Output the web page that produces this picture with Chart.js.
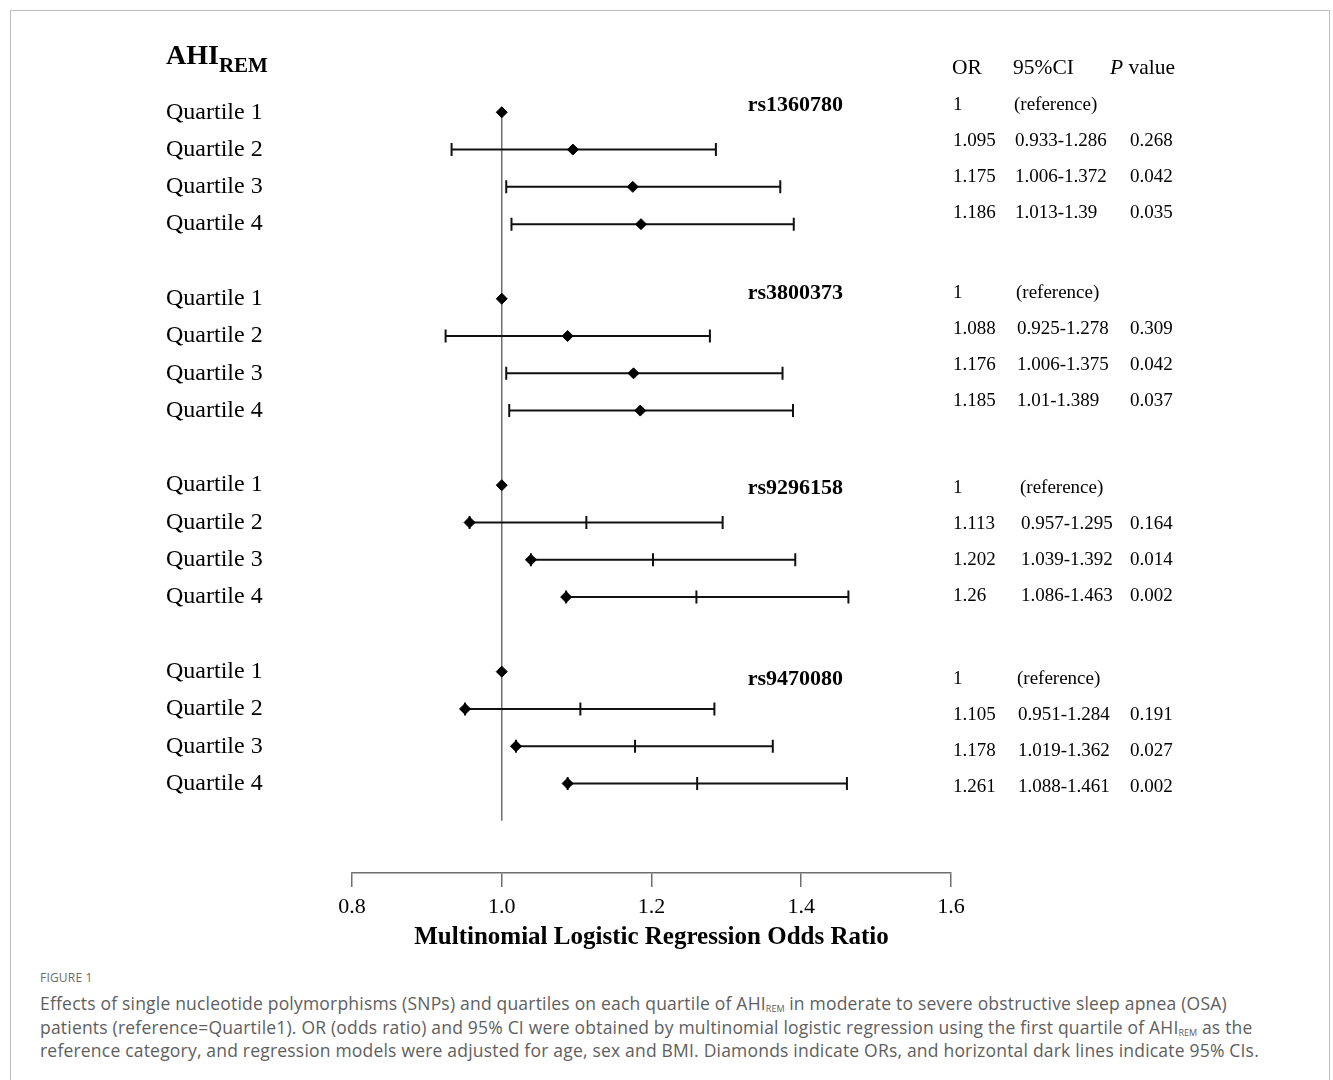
<!DOCTYPE html>
<html>
<head>
<meta charset="utf-8">
<script src="https://cdn.jsdelivr.net/npm/chart.js@4.4.1/dist/chart.umd.min.js"></script>
<style>
  body { margin: 0; background: #fff; width: 1333px; height: 1080px; overflow: hidden; position: relative; }
  #frame { position: absolute; left: 10px; top: 10px; width: 1320px; height: 1120px; border: 1.5px solid #bdbdbd; box-sizing: border-box; }
  #plot { position: absolute; left: 0; top: 0; }
  #caption { position: absolute; left: 40px; top: 968px; font-family: 'Open Sans', 'Noto Sans', sans-serif; color: #5e5e5e; }
  #caption .fig { font-size: 12px; letter-spacing: 0.2px; color: #6a6a6a; line-height: 20px; height: 24px; }
  #caption .line { font-size: 17.5px; line-height: 23.5px; height: 23.5px; white-space: nowrap; letter-spacing: 0.2px; }
  #caption sub { font-size: 9px; line-height: 0; vertical-align: baseline; position: relative; top: 2px; letter-spacing: 0; }
</style>
</head>
<body>
<div id="frame"></div>
<canvas id="plot" width="1333" height="960"></canvas>
<div id="caption">
  <div class="fig">FIGURE 1</div>
  <div class="line">Effects of single nucleotide polymorphisms (SNPs) and quartiles on each quartile of AHI<sub>REM</sub> in moderate to severe obstructive sleep apnea (OSA)</div>
  <div class="line">patients (reference=Quartile1). OR (odds ratio) and 95% CI were obtained by multinomial logistic regression using the first quartile of AHI<sub>REM</sub> as the</div>
  <div class="line">reference category, and regression models were adjusted for age, sex and BMI. Diamonds indicate ORs, and horizontal dark lines indicate 95% CIs.</div>
</div>
<script>
// Datos (un renglón por SNP, columnas = cuartiles 1..4)
const SNPS = ['rs1360780', 'rs3800373', 'rs9296158', 'rs9470080'];
const QUARTILES = ['Quartile 1', 'Quartile 2', 'Quartile 3', 'Quartile 4'];
const OR_VALUES = [
  [1, 1.095, 1.175, 1.186],
  [1, 1.088, 1.176, 1.185],
  [1, 1.113, 1.202, 1.26],
  [1, 1.105, 1.178, 1.261],
];
const CI_LOW = [
  [null, 0.933, 1.006, 1.013],
  [null, 0.925, 1.006, 1.01],
  [null, 0.957, 1.039, 1.086],
  [null, 0.951, 1.019, 1.088],
];
const CI_HIGH = [
  [null, 1.286, 1.372, 1.39],
  [null, 1.278, 1.375, 1.389],
  [null, 1.295, 1.392, 1.463],
  [null, 1.284, 1.362, 1.461],
];
const P_VALUES = [
  [null, '0.268', '0.042', '0.035'],
  [null, '0.309', '0.042', '0.037'],
  [null, '0.164', '0.014', '0.002'],
  [null, '0.191', '0.027', '0.002'],
];
// En la figura publicada, para rs9296158 y rs9470080 el rombo quedó en el límite inferior
// y el OR aparece como una marca vertical sobre la línea.
const DIAMOND_AT = [
  [1, 1.095, 1.175, 1.186],
  [1, 1.088, 1.176, 1.185],
  [1, 0.957, 1.039, 1.086],
  [1, 0.951, 1.019, 1.088],
];
const X_TICKS = [0.8, 1.0, 1.2, 1.4, 1.6];

const SERIF = "'Liberation Serif', 'Times New Roman', serif";
const GRIS = '#6f6f6f';
const FILAS_POR_GRUPO = 5; // 4 cuartiles + un renglón vacío

function fila(g, q) {
  return g * FILAS_POR_GRUPO + q;
}

const filasCuartil = [];
const puntos = [];
SNPS.forEach((_, g) => {
  QUARTILES.forEach((_, q) => {
    filasCuartil.push(fila(g, q));
    puntos.push({ x: DIAMOND_AT[g][q], y: fila(g, q) });
  });
});

const decoracion = {
  id: 'decoracion',
  beforeDatasetsDraw(chart) {
    const { ctx } = chart;
    const xs = chart.scales.x;
    const ys = chart.scales.y;
    ctx.save();
    // línea de referencia en OR = 1
    ctx.strokeStyle = GRIS;
    ctx.lineWidth = 1.5;
    ctx.beginPath();
    ctx.moveTo(xs.getPixelForValue(1), ys.getPixelForValue(-0.15));
    ctx.lineTo(xs.getPixelForValue(1), ys.getPixelForValue(19));
    ctx.stroke();

    // intervalos de confianza
    ctx.strokeStyle = '#111';
    ctx.lineWidth = 2;
    SNPS.forEach((_, g) => {
      QUARTILES.forEach((_, q) => {
        if (CI_LOW[g][q] == null) return;
        const y = ys.getPixelForValue(fila(g, q));
        const x0 = xs.getPixelForValue(CI_LOW[g][q]);
        const x1 = xs.getPixelForValue(CI_HIGH[g][q]);
        ctx.beginPath();
        ctx.moveTo(x0, y);
        ctx.lineTo(x1, y);
        const marcas = [x0, x1];
        if (DIAMOND_AT[g][q] !== OR_VALUES[g][q]) marcas.push(xs.getPixelForValue(OR_VALUES[g][q]));
        marcas.forEach((x) => {
          ctx.moveTo(x, y - 6.5);
          ctx.lineTo(x, y + 6.5);
        });
        ctx.stroke();
      });
    });
    ctx.restore();
  },
  afterDraw(chart) {
    const { ctx } = chart;
    const ys = chart.scales.y;
    ctx.save();
    ctx.fillStyle = '#000';
    ctx.textBaseline = 'alphabetic';

    // título AHI_REM
    ctx.font = `bold 28px ${SERIF}`;
    ctx.fillText('AHI', 166, 64);
    const anchoAhi = ctx.measureText('AHI').width;
    ctx.font = `bold 21px ${SERIF}`;
    ctx.fillText('REM', 166 + anchoAhi, 72);

    // nombres de SNP
    const ajusteSnp = [-7, -5, 3, 8];
    ctx.font = `bold 22px ${SERIF}`;
    ctx.textAlign = 'right';
    ctx.textBaseline = 'middle';
    SNPS.forEach((snp, g) => {
      ctx.fillText(snp, 843, ys.getPixelForValue(fila(g, 0)) + ajusteSnp[g]);
    });

    // tabla OR / IC / p
    ctx.textAlign = 'left';
    ctx.font = `21.5px ${SERIF}`;
    ctx.fillText('OR', 952, 68);
    ctx.fillText('95%CI', 1013, 68);
    ctx.font = `italic 21.5px ${SERIF}`;
    ctx.fillText('P', 1110, 68);
    const anchoP = ctx.measureText('P ').width;
    ctx.font = `21.5px ${SERIF}`;
    ctx.fillText('value', 1110 + anchoP, 68);

    const ajusteTabla = [-7, -6, 3, 7];
    const colIc = [1015, 1017, 1021, 1018];
    ctx.font = `19px ${SERIF}`;
    SNPS.forEach((_, g) => {
      const y0 = ys.getPixelForValue(fila(g, 0)) + ajusteTabla[g];
      QUARTILES.forEach((_, q) => {
        const y = y0 + q * 36;
        ctx.fillText(String(OR_VALUES[g][q]), 953, y);
        if (CI_LOW[g][q] == null) {
          ctx.fillText('(reference)', colIc[g] - 1, y);
        } else {
          ctx.fillText(`${CI_LOW[g][q]}-${CI_HIGH[g][q]}`, colIc[g], y);
          ctx.fillText(P_VALUES[g][q], 1130, y);
        }
      });
    });
    ctx.restore();
  },
};

new Chart(document.getElementById('plot'), {
  type: 'scatter',
  data: {
    datasets: [{
      data: puntos,
      pointStyle: 'rectRot',
      pointRadius: 5.5,
      pointHoverRadius: 5.5,
      backgroundColor: '#000',
      borderColor: '#000',
      borderWidth: 1,
    }],
  },
  options: {
    responsive: false,
    animation: false,
    devicePixelRatio: 1,
    events: [],
    layout: { padding: { left: 166, right: 382, top: 75, bottom: 7 } },
    plugins: { legend: { display: false }, tooltip: { enabled: false } },
    scales: {
      x: {
        type: 'linear',
        min: 0.8,
        max: 1.6,
        afterBuildTicks: (scale) => { scale.ticks = X_TICKS.map((v) => ({ value: v })); },
        afterFit: (scale) => { scale.height = 80; },
        ticks: {
          callback: (v) => Number(v).toFixed(1),
          color: '#000',
          padding: 7,
          font: { family: SERIF, size: 22 },
        },
        grid: { display: true, drawOnChartArea: false, drawTicks: true, tickLength: 14, color: GRIS, lineWidth: 1.5 },
        border: { display: true, color: GRIS, width: 1.5 },
        title: {
          display: true,
          text: 'Multinomial Logistic Regression Odds Ratio',
          color: '#000',
          padding: 0,
          font: { family: SERIF, size: 25, weight: 'bold' },
        },
      },
      y: {
        type: 'linear',
        reverse: true,
        min: -1,
        max: 20.4,
        afterBuildTicks: (scale) => { scale.ticks = filasCuartil.map((v) => ({ value: v })); },
        afterFit: (scale) => { scale.width = 186; },
        ticks: {
          autoSkip: false,
          crossAlign: 'far',
          color: '#000',
          font: { family: SERIF, size: 24 },
          callback: (v) => QUARTILES[v % FILAS_POR_GRUPO],
        },
        grid: { display: false },
        border: { display: false },
      },
    },
  },
  plugins: [decoracion],
});
</script>
</body>
</html>
